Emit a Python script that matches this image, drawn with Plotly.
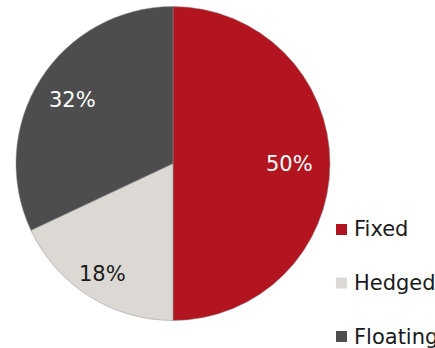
import math
import plotly.graph_objects as go

labels = ["Fixed", "Hedged", "Floating"]
values = [50, 18, 32]
colors = ["#B2151F", "#DCD9D5", "#4D4D4D"]
text_colors = ["white", "#1a1a1a", "white"]
label_radius_frac = [0.745, 0.835, 0.755]

W, H = 435, 348
# pie geometry in figure pixels
cx, cy, r = 173.0, 163.5, 157.0

fig = go.Figure()
fig.add_trace(go.Pie(
    labels=labels, values=values, sort=False, direction="clockwise", rotation=0,
    marker=dict(colors=colors, line=dict(color="#8a8a8a", width=0.5)),
    textinfo="none",
    domain=dict(x=[(cx - r) / W, (cx + r) / W], y=[1 - (cy + r) / H, 1 - (cy - r) / H]),
    showlegend=False, hoverinfo="label+percent",
))

# percentage labels placed at each slice's mid-angle
total = sum(values)
cum = 0
for v, tc, f in zip(values, text_colors, label_radius_frac):
    mid = (cum + v / 2) / total * 2 * math.pi
    cum += v
    px = cx + r * f * math.sin(mid)
    py = cy - r * f * math.cos(mid)
    fig.add_annotation(text=f"{round(v / total * 100)}%", xref="paper", yref="paper",
                       x=px / W, y=1 - py / H, xanchor="center", yanchor="middle",
                       showarrow=False, font=dict(family="DejaVu Sans", size=21, color=tc))

# legend drawn manually
leg_y = [229.5, 283, 336.5]
for lab, col, yc in zip(labels, colors, leg_y):
    fig.add_shape(type="rect", xref="paper", yref="paper",
                  x0=336 / W, x1=347 / W, y0=1 - (yc + 5.5) / H, y1=1 - (yc - 5.5) / H,
                  fillcolor=col, line=dict(width=0))
    fig.add_annotation(text=lab, xref="paper", yref="paper", x=352 / W, y=1 - yc / H,
                       xanchor="left", yanchor="middle", showarrow=False,
                       font=dict(family="DejaVu Sans", size=21, color="#1a1a1a"))

fig.update_layout(width=W, height=H, margin=dict(l=0, r=0, t=0, b=0),
                  paper_bgcolor="white", plot_bgcolor="white")
fig.write_html("out.html", config={"displayModeBar": False},
               post_script="document.body.style.margin='0';document.body.style.overflow='hidden';")
